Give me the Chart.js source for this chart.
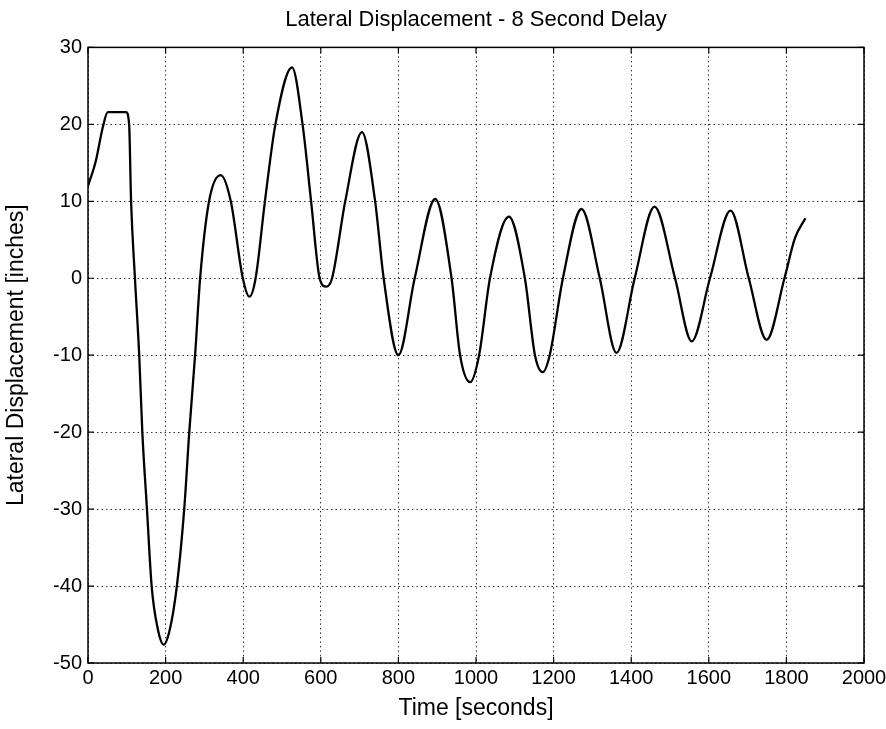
<!DOCTYPE html>
<html>
<head>
<meta charset="utf-8">
<script src="https://cdn.jsdelivr.net/npm/chart.js@4.4.1/dist/chart.umd.min.js"></script>
<style>
  html, body { margin: 0; padding: 0; background: #fff; }
  #wrap { width: 886px; height: 729px; }
</style>
</head>
<body>
<div id="wrap"><canvas id="lateral"></canvas></div>
<script>
// time [s] and lateral displacement [in]
const timeSec = [0, 20, 38, 51, 98, 106, 111, 121, 132, 140, 152, 164, 180, 195, 211, 229, 248, 261, 276,
    289, 312, 342, 368, 399, 416, 432, 456, 483, 526, 553, 575, 597, 614, 629, 663, 706,
    740, 762, 800, 842, 895, 937, 959, 985, 1008, 1036, 1085, 1126, 1152, 1172, 1190, 1224, 1272, 1319,
    1362, 1409, 1460, 1513, 1556, 1603, 1656, 1703, 1749, 1795, 1822, 1849];
const displacement = [12, 15.2, 19.6, 21.6, 21.6, 20, 10, 0, -10, -20, -30, -40, -45.6, -47.6, -45.6, -40, -30, -20, -10,
    0, 10, 13.4, 10, 0, -2.4, 0, 10, 20, 27.4, 20, 10, 0, -1.1, 0, 10, 19,
    10, 0, -10, 0, 10.3, 0, -10, -13.5, -10, 0, 8, 0, -10, -12.2, -10, 0, 9, 0,
    -9.7, 0, 9.3, 0, -8.2, 0, 8.8, 0, -8, 0, 5.2, 7.8];

const xTicks = [0, 200, 400, 600, 800, 1000, 1200, 1400, 1600, 1800, 2000];
const yTicks = [-50, -40, -30, -20, -10, 0, 10, 20, 30];

const points = timeSec.map((t, i) => ({ x: t, y: displacement[i] }));

const fontFam = '"Liberation Sans", Arial, Helvetica, sans-serif';

// matlab style box with inward tick marks
const boxPlugin = {
    id: 'box',
    afterDatasetsDraw(chart) {
        const { ctx, chartArea: a, scales } = chart;
        ctx.save();
        ctx.strokeStyle = '#000';
        ctx.lineWidth = 1.5;
        ctx.strokeRect(a.left, a.top, a.right - a.left, a.bottom - a.top);
        ctx.lineWidth = 1.2;
        ctx.beginPath();
        xTicks.forEach(v => {
            const px = scales.x.getPixelForValue(v);
            ctx.moveTo(px, a.bottom); ctx.lineTo(px, a.bottom - 6);
            ctx.moveTo(px, a.top); ctx.lineTo(px, a.top + 6);
        });
        yTicks.forEach(v => {
            const py = scales.y.getPixelForValue(v);
            ctx.moveTo(a.left, py); ctx.lineTo(a.left + 6, py);
            ctx.moveTo(a.right, py); ctx.lineTo(a.right - 6, py);
        });
        ctx.stroke();
        ctx.restore();
    }
};

const ctx = document.getElementById('lateral');

new Chart(ctx, {
    type: 'line',
    data: {
        datasets: [{
            label: 'Lateral Displacement',
            data: points,
            borderColor: '#000',
            borderWidth: 2.3,
            pointRadius: 0,
            fill: false,
            cubicInterpolationMode: 'monotone'
        }]
    },
    options: {
        responsive: true,
        maintainAspectRatio: false,
        animation: false,
        layout: { padding: { left: 0, right: 22, top: 0, bottom: 0 } },
        plugins: {
            legend: { display: false },
            tooltip: { enabled: false },
            title: {
                display: true,
                fullSize: false,
                text: 'Lateral Displacement - 8 Second Delay',
                color: '#000',
                font: { family: fontFam, size: 22, weight: 'normal' },
                padding: { top: 7, bottom: 14 }
            }
        },
        scales: {
            x: {
                type: 'linear',
                min: 0,
                max: 2000,
                afterFit: s => { s.height = 66; s.paddingRight = 0; },
                afterBuildTicks: s => { s.ticks = xTicks.map(v => ({ value: v })); },
                ticks: {
                    color: '#000',
                    padding: 3,
                    maxRotation: 0,
                    font: { family: fontFam, size: 20 },
                    callback: v => String(v)
                },
                grid: {
                    color: 'rgba(0,0,0,0.8)',
                    lineWidth: 1,
                    drawTicks: false
                },
                border: { display: false, dash: [1.5, 3] },
                title: {
                    display: true,
                    text: 'Time [seconds]',
                    color: '#000',
                    font: { family: fontFam, size: 23 },
                    padding: { top: 0, bottom: 7 }
                }
            },
            y: {
                min: -50,
                max: 30,
                afterFit: s => { s.width = 88; },
                afterBuildTicks: s => { s.ticks = yTicks.map(v => ({ value: v })); },
                ticks: {
                    color: '#000',
                    padding: 6,
                    font: { family: fontFam, size: 20 },
                    callback: v => String(v)
                },
                grid: {
                    color: 'rgba(0,0,0,0.8)',
                    lineWidth: 1,
                    drawTicks: false
                },
                border: { display: false, dash: [1.5, 3] },
                title: {
                    display: true,
                    text: 'Lateral Displacement [inches]',
                    color: '#000',
                    font: { family: fontFam, size: 23 },
                    padding: { top: 3, bottom: 0 }
                }
            }
        }
    },
    plugins: [boxPlugin]
});
</script>
</body>
</html>
